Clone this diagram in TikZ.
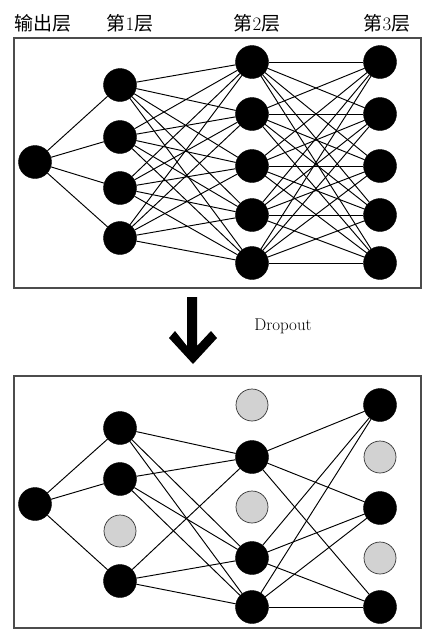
\documentclass[tikz,border=0pt]{standalone}
\usepackage{fontspec}
\newfontfamily\cjk{Noto Sans CJK SC}

\begin{document}
\begin{tikzpicture}[x=1pt,y=-1pt,
              neuron/.style={circle, fill=black, draw=black, minimum size=33pt, inner sep=0pt},
              dropped/.style={circle, fill=gray!35, draw=black!80, line width=0.7pt, minimum size=32pt, inner sep=0pt},
              link/.style={line width=0.95pt},
              panel/.style={draw=black!70, line width=1.3pt},
              layername/.style={font=\fontsize{19}{19}\selectfont, inner sep=0pt}
            ]
              \useasboundingbox (0,0) rectangle (424,630);
              % layer names
              \node[layername] (t0) at (43,23) {\cjk 输出层};
              \node[layername] (t1) at (130,23) {{\cjk 第}1{\cjk 层}};
              \node[layername] (t2) at (257,23) {{\cjk 第}2{\cjk 层}};
              \node[layername] (t3) at (387,23) {{\cjk 第}3{\cjk 层}};

              % full network
              \draw[panel] (14,38) rectangle (421,288);
              \node[neuron] (a0) at (35,162) {};
              \foreach \y [count=\i] in {85,137,188,238}
                \node[neuron] (a1\i) at (120,\y) {};
              \foreach \y [count=\i] in {62,114,166,215,263}
                \node[neuron] (a2\i) at (252,\y) {};
              \foreach \y [count=\i] in {62,114,166,215,263}
                \node[neuron] (a3\i) at (380,\y) {};
              \foreach \i in {1,...,4}
                \draw[link] (a0) -- (a1\i);
              \foreach \i in {1,...,4}
                \foreach \j in {1,...,5}
                  \draw[link] (a1\i) -- (a2\j);
              \foreach \i in {1,...,5}
                \foreach \j in {1,...,5}
                  \draw[link] (a2\i) -- (a3\j);

              % arrow
              \fill (187,297) -- (197,297) -- (197,346) -- (211,331) -- (217,338)
                -- (193,364) -- (169,338) -- (175,331) -- (187,346) -- cycle;
              \node[font=\fontsize{17}{17}\selectfont] (drop) at (283,326) {Dropout};

              % thinned network
              \draw[panel] (14,376) rectangle (421,628);
              \node[neuron] (b0) at (35,504) {};
              \foreach \y/\s [count=\i] in {428/neuron,479/neuron,531/dropped,581/neuron}
                \node[\s] (b1\i) at (120,\y) {};
              \foreach \y/\s [count=\i] in {405/dropped,457/neuron,507/dropped,558/neuron,607/neuron}
                \node[\s] (b2\i) at (252,\y) {};
              \foreach \y/\s [count=\i] in {405/neuron,457/dropped,508/neuron,558/dropped,607/neuron}
                \node[\s] (b3\i) at (380,\y) {};
              \foreach \i in {1,2,4}
                \draw[link] (b0) -- (b1\i);
              \foreach \i in {1,2,4}
                \foreach \j in {2,4,5}
                  \draw[link] (b1\i) -- (b2\j);
              \foreach \i in {2,4,5}
                \foreach \j in {1,3,5}
                  \draw[link] (b2\i) -- (b3\j);
            \end{tikzpicture}
\end{document}
